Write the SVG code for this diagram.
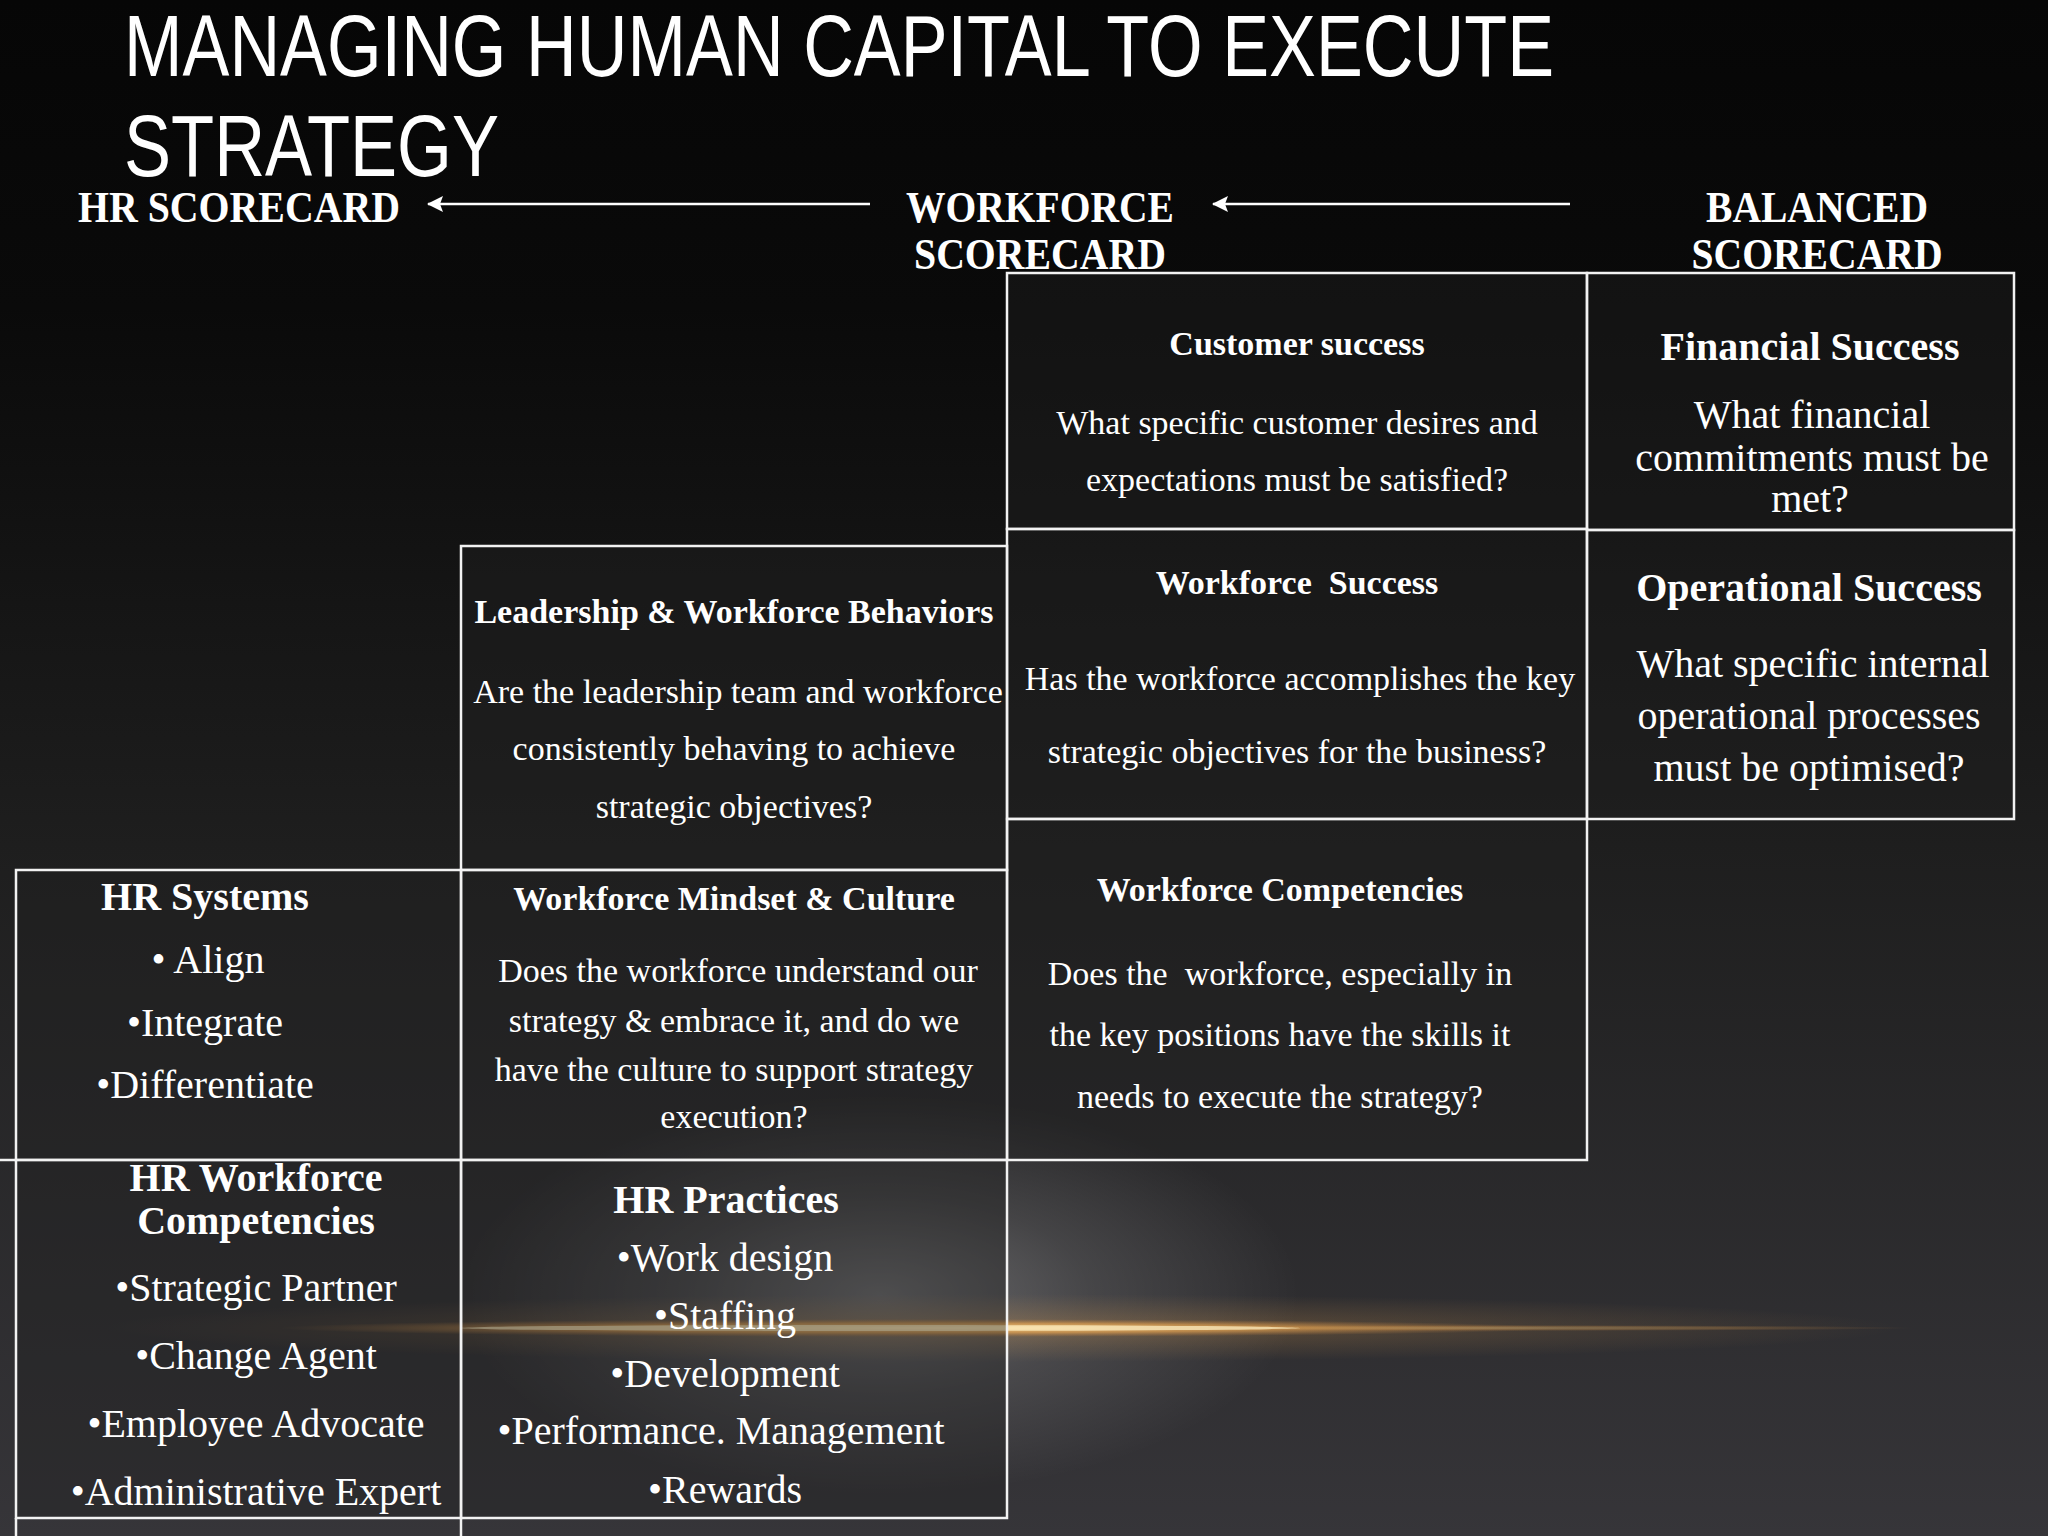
<svg xmlns="http://www.w3.org/2000/svg" width="2048" height="1536" viewBox="0 0 2048 1536">
  <defs>
    <linearGradient id="bg" x1="0" y1="0" x2="0" y2="1">
      <stop offset="0" stop-color="#060606"/>
      <stop offset="0.2" stop-color="#0a0a0a"/>
      <stop offset="0.55" stop-color="#1e1e1e"/>
      <stop offset="1" stop-color="#363539"/>
    </linearGradient>
    <radialGradient id="glow" cx="0.5" cy="0.5" r="0.5">
      <stop offset="0" stop-color="#ffffff" stop-opacity="0.3"/>
      <stop offset="0.5" stop-color="#ffffff" stop-opacity="0.12"/>
      <stop offset="1" stop-color="#ffffff" stop-opacity="0"/>
    </radialGradient>
    <radialGradient id="streak" cx="0.5" cy="0.5" r="0.5">
      <stop offset="0" stop-color="#ffd58a" stop-opacity="1"/>
      <stop offset="0.55" stop-color="#e0a050" stop-opacity="0.7"/>
      <stop offset="1" stop-color="#c08040" stop-opacity="0"/>
    </radialGradient>
    <radialGradient id="haze" cx="0.5" cy="0.5" r="0.5">
      <stop offset="0" stop-color="#e0a050" stop-opacity="0.3"/>
      <stop offset="1" stop-color="#e0a050" stop-opacity="0"/>
    </radialGradient>
    <marker id="arr" markerUnits="userSpaceOnUse" markerWidth="18" markerHeight="18" refX="15" refY="8" orient="auto">
      <path d="M0,0 L16,8 L0,16 L3,8 z" fill="#ffffff"/>
    </marker>
    <style>
      .cell { fill: #202020; fill-opacity: 0.4; stroke: #f2f2f2; stroke-width: 2.5; }
      .ln { stroke: #f2f2f2; stroke-width: 2.5; fill: none; }
      .title { font-family: "Liberation Sans", Arial, sans-serif; font-size: 88px; fill: #ffffff; }
      .hdr { font-family: "Liberation Serif", "Times New Roman", serif; font-weight: bold; font-size: 44px; fill: #ffffff; text-anchor: middle; }
      .h34 { font-family: "Liberation Serif", "Times New Roman", serif; font-weight: bold; font-size: 34px; fill: #ffffff; text-anchor: middle; }
      .b34 { font-family: "Liberation Serif", "Times New Roman", serif; font-size: 34px; fill: #ffffff; text-anchor: middle; }
      .h40 { font-family: "Liberation Serif", "Times New Roman", serif; font-weight: bold; font-size: 40px; fill: #ffffff; text-anchor: middle; }
      .b40 { font-family: "Liberation Serif", "Times New Roman", serif; font-size: 40px; fill: #ffffff; text-anchor: middle; }
      .conn { stroke: #ffffff; stroke-width: 2.5; fill: none; marker-end: url(#arr); }
    </style>
  </defs>

  <rect x="0" y="0" width="2048" height="1536" fill="url(#bg)"/>
  <ellipse cx="880" cy="1295" rx="420" ry="200" fill="url(#glow)"/>
  <ellipse cx="1000" cy="1328" rx="900" ry="34" fill="url(#haze)"/>
  <ellipse cx="920" cy="1328" rx="640" ry="9" fill="url(#streak)"/>
  <ellipse cx="1500" cy="1328" rx="420" ry="3" fill="url(#streak)" fill-opacity="0.4"/>
  <ellipse cx="880" cy="1328" rx="420" ry="3" fill="#fff2c8" fill-opacity="0.7"/>

  <g id="title">
    <text class="title" x="124" y="76" textLength="1430" lengthAdjust="spacingAndGlyphs">MANAGING HUMAN CAPITAL TO EXECUTE</text>
    <text class="title" x="124" y="176" textLength="375" lengthAdjust="spacingAndGlyphs">STRATEGY</text>
  </g>

  <g id="hr-scorecard">
    <text class="hdr" x="239" y="222" textLength="322" lengthAdjust="spacingAndGlyphs">HR SCORECARD</text>
  </g>
  <g id="workforce-scorecard">
    <text class="hdr" x="1040" y="222" textLength="268" lengthAdjust="spacingAndGlyphs">WORKFORCE</text>
    <text class="hdr" x="1040" y="269" textLength="252" lengthAdjust="spacingAndGlyphs">SCORECARD</text>
  </g>
  <g id="balanced-scorecard">
    <text class="hdr" x="1817" y="222" textLength="222" lengthAdjust="spacingAndGlyphs">BALANCED</text>
    <text class="hdr" x="1817" y="269" textLength="251" lengthAdjust="spacingAndGlyphs">SCORECARD</text>
  </g>

  <g id="connectors">
    <line class="conn" x1="870" y1="204" x2="428" y2="204"/>
    <line class="conn" x1="1570" y1="204" x2="1213" y2="204"/>
  </g>

  <g id="customer-success">
    <rect class="cell" x="1007" y="273" width="580" height="256"/>
    <text class="h34" x="1297" y="355">Customer success</text>
    <text class="b34" x="1297" y="434">What specific customer desires and</text>
    <text class="b34" x="1297" y="491">expectations must be satisfied?</text>
  </g>

  <g id="financial-success">
    <rect class="cell" x="1587" y="273" width="427" height="257"/>
    <text class="h40" x="1810" y="360">Financial Success</text>
    <text class="b40" x="1812" y="428">What financial</text>
    <text class="b40" x="1812" y="471">commitments must be</text>
    <text class="b40" x="1810" y="512">met?</text>
  </g>

  <g id="workforce-success">
    <rect class="cell" x="1007" y="529" width="580" height="290"/>
    <text class="h34" x="1297" y="594" xml:space="preserve">Workforce  Success</text>
    <text class="b34" x="1300" y="690">Has the workforce accomplishes the key</text>
    <text class="b34" x="1297" y="763">strategic objectives for the business?</text>
  </g>

  <g id="operational-success">
    <rect class="cell" x="1587" y="530" width="427" height="289"/>
    <text class="h40" x="1809" y="601">Operational Success</text>
    <text class="b40" x="1813" y="677">What specific internal</text>
    <text class="b40" x="1809" y="729">operational processes</text>
    <text class="b40" x="1809" y="781">must be optimised?</text>
  </g>

  <g id="workforce-competencies">
    <rect class="cell" x="1007" y="819" width="580" height="341"/>
    <text class="h34" x="1280" y="901">Workforce Competencies</text>
    <text class="b34" x="1280" y="985" xml:space="preserve">Does the  workforce, especially in</text>
    <text class="b34" x="1280" y="1046">the key positions have the skills it</text>
    <text class="b34" x="1280" y="1108">needs to execute the strategy?</text>
  </g>

  <g id="leadership-behaviors">
    <rect class="cell" x="461" y="546" width="546" height="324"/>
    <text class="h34" x="734" y="623">Leadership &amp; Workforce Behaviors</text>
    <text class="b34" x="738" y="703">Are the leadership team and workforce</text>
    <text class="b34" x="734" y="760">consistently behaving to achieve</text>
    <text class="b34" x="734" y="818">strategic objectives?</text>
  </g>

  <g id="mindset-culture">
    <rect class="cell" x="461" y="870" width="546" height="290"/>
    <text class="h34" x="734" y="910">Workforce Mindset &amp; Culture</text>
    <text class="b34" x="738" y="982">Does the workforce understand our</text>
    <text class="b34" x="734" y="1032">strategy &amp; embrace it, and do we</text>
    <text class="b34" x="734" y="1081">have the culture to support strategy</text>
    <text class="b34" x="734" y="1128">execution?</text>
  </g>

  <g id="hr-practices">
    <rect class="cell" x="461" y="1160" width="546" height="358"/>
    <text class="h40" x="726" y="1213">HR Practices</text>
    <text class="b40" x="725" y="1271">•Work design</text>
    <text class="b40" x="725" y="1329">•Staffing</text>
    <text class="b40" x="725" y="1387">•Development</text>
    <text class="b40" x="721" y="1444">•Performance. Management</text>
    <text class="b40" x="725" y="1503">•Rewards</text>
  </g>

  <g id="hr-systems">
    <rect class="cell" x="16" y="870" width="445" height="290"/>
    <line class="ln" x1="0" y1="1160" x2="16" y2="1160"/>
    <text class="h40" x="205" y="910">HR Systems</text>
    <text class="b40" x="208" y="973">• Align</text>
    <text class="b40" x="205" y="1036">•Integrate</text>
    <text class="b40" x="205" y="1098">•Differentiate</text>
  </g>

  <g id="hr-workforce-competencies">
    <rect class="cell" x="16" y="1160" width="445" height="358"/>
    <line class="ln" x1="16" y1="1518" x2="16" y2="1536"/>
    <line class="ln" x1="461" y1="1518" x2="461" y2="1536"/>
    <text class="h40" x="256" y="1191">HR Workforce</text>
    <text class="h40" x="256" y="1234">Competencies</text>
    <text class="b40" x="256" y="1301">•Strategic Partner</text>
    <text class="b40" x="256" y="1369">•Change Agent</text>
    <text class="b40" x="256" y="1437">•Employee Advocate</text>
    <text class="b40" x="256" y="1505">•Administrative Expert</text>
  </g>
</svg>
